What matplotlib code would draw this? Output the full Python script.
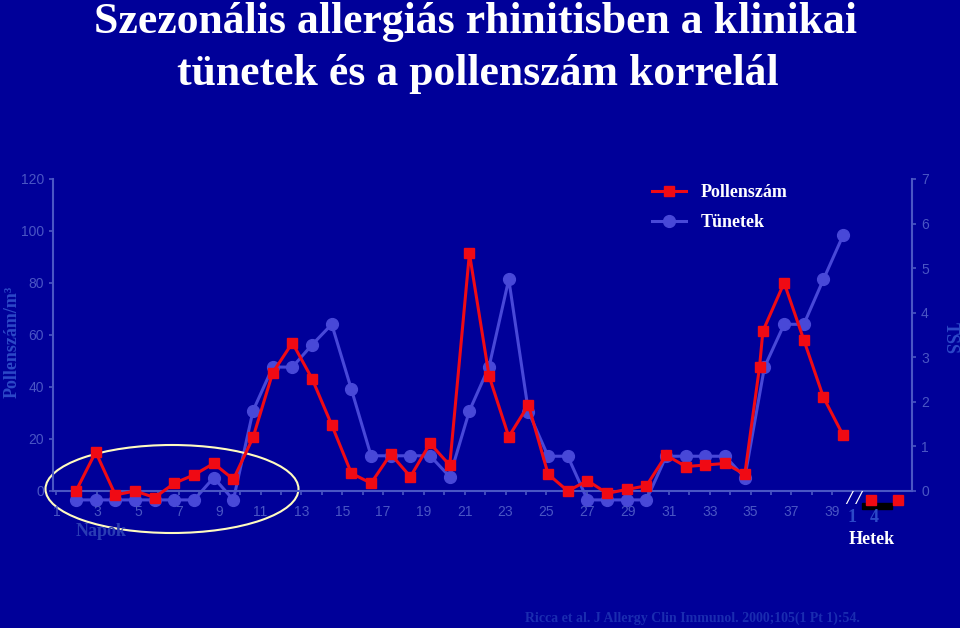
import matplotlib
matplotlib.use('Agg')
import matplotlib.pyplot as plt
import numpy as np
from matplotlib.patches import Ellipse

# daily pollen count (pollen/m3) and symptom score (TSS)
pollen_days = list(range(1, 36)) + [35.75, 35.92, 37, 38, 39, 40]
pollen = [0, 15, -1.5, 0, -2.5, 3, 6.2, 10.6, 4.5, 20.6,
          45.5, 57, 43.2, 25.4, 6.8, 3, 14.2, 5.5, 18.3, 9.9,
          91.4, 44.2, 20.9, 33.1, 6.5, 0, 4, -0.9, 0.6, 2,
          13.8, 9.4, 10, 10.6, 6.4, 47.8, 61.5, 80.1, 58.1, 36, 21.4]
tss_days = list(range(1, 41))
tss = [-0.2, -0.2, -0.2, -0.2, -0.2, -0.2, -0.2, 0.3, -0.2, 1.8,
       2.78, 2.78, 3.28, 3.74, 2.28, 0.79, 0.79, 0.79, 0.79, 0.32,
       1.8, 2.79, 4.75, 1.78, 0.78, 0.78, -0.2, -0.2, -0.2, -0.2,
       0.78, 0.78, 0.78, 0.78, 0.3, 2.78, 3.74, 3.74, 4.75, 5.74]
week_x = [41.4, 42.8]
week_pollen = [-3.5, -3.5]
tick_days = np.arange(1, 40)

BG = '#000099'
AXC = '#4a56c4'
LBL = '#2c48c8'
RED = '#f00a14'
BLUE = '#4848d8'
SERIF = 'Liberation Serif'

plt.rcParams['font.family'] = ['Liberation Sans', 'DejaVu Sans']

fig = plt.figure(figsize=(9.6, 6.28), dpi=100, facecolor=BG)


def fx(px):
    return px / 960


def fy(py):
    return 1 - py / 628


ax = fig.add_axes([fx(53), fy(491), fx(912) - fx(53), fy(179) - fy(491)])
ax.set_facecolor('none')
ax.set_xlim(-0.17, 43.5)
ax.set_ylim(0, 120)
ax.set_yticks(np.arange(0, 121, 20))
# day axis labels are spaced slightly wider than the data points
tick_x = (tick_days - 1) * 1.038
ax.set_xticks(tick_x)
ax.set_xticklabels([str(d) if d % 2 else '' for d in tick_days])
for s in ['top', 'right']:
    ax.spines[s].set_visible(False)
for s in ['left', 'bottom']:
    ax.spines[s].set_color(AXC)
    ax.spines[s].set_linewidth(1.5)
ax.tick_params(colors=AXC, labelsize=10, length=3, width=1.2)
ax.tick_params(axis='x', pad=7)

ax2 = ax.twinx()
ax2.set_ylim(0, 7)
ax2.set_yticks(range(0, 8))
for s in ['top', 'left', 'bottom']:
    ax2.spines[s].set_visible(False)
ax2.spines['right'].set_color(AXC)
ax2.spines['right'].set_linewidth(1.5)
ax2.tick_params(colors=AXC, labelsize=10, length=3, width=1.2)

lb, = ax2.plot(tss_days, tss, color=BLUE, lw=2.2, marker='o', ms=8.5,
               clip_on=False, zorder=2, label='Tünetek')
lr, = ax.plot(pollen_days, pollen, color=RED, lw=2.2, marker='s', ms=7.5,
              clip_on=False, zorder=3, label='Pollenszám')
ax.set_zorder(ax2.get_zorder() + 1)
ax.plot(week_x, week_pollen, ls='none', color=RED, marker='s', ms=7.5,
        clip_on=False, zorder=4)

leg = ax.legend(handles=[lr, lb], loc='upper left', bbox_to_anchor=(0.678, 1.035),
                frameon=False, handlelength=1.9, labelspacing=0.7,
                prop={'family': SERIF, 'weight': 'bold', 'size': 13})
for t in leg.get_texts():
    t.set_color('white')

# titles and labels
title_kw = dict(family=SERIF, weight='bold', size=31.5, color='white', ha='center', va='baseline')
fig.text(fx(475), fy(33), 'Szezonális allergiás rhinitisben a klinikai', **title_kw)
fig.text(fx(478), fy(85), 'tünetek és a pollenszám korrelál', **title_kw)

fig.text(fx(12), fy(342), 'Pollenszám/m³', family=SERIF, weight='bold', size=13,
         color=LBL, rotation=90, ha='center', va='center')
fig.text(fx(950), fy(338), 'TSS', family=SERIF, weight='bold', size=13,
         color=LBL, rotation=270, ha='center', va='center')
fig.text(fx(101), fy(532), 'Napok', family=SERIF, weight='bold', size=13,
         color='#2a3cb4', ha='center', va='center')
fig.text(fx(872), fy(539), 'Hetek', family=SERIF, weight='bold', size=13,
         color='white', ha='center', va='center')
fig.text(fx(852), fy(517), '1', family=SERIF, weight='bold', size=13,
         color=LBL, ha='center', va='center')
fig.text(fx(874), fy(517), '4', family=SERIF, weight='bold', size=13,
         color=LBL, ha='center', va='center')
fig.text(fx(854), fy(500), '/ /', family=SERIF, weight='bold', size=14,
         color='white', ha='center', va='center', style='italic')
fig.add_artist(plt.Rectangle((fx(862), fy(509)), fx(30), 6 / 628,
                             color='black', transform=fig.transFigure, zorder=1))
fig.text(fx(692), fy(618), 'Ricca et al. J Allergy Clin Immunol. 2000;105(1 Pt 1):54.',
         family=SERIF, weight='bold', size=10, color='#1a2cb0', ha='center', va='center')

fig.add_artist(Ellipse((fx(172), fy(489)), fx(253), 88 / 628, fill=False,
                       edgecolor='#fffbc0', lw=1.5, transform=fig.transFigure))

fig.savefig('out.png', dpi=100, facecolor=BG)
